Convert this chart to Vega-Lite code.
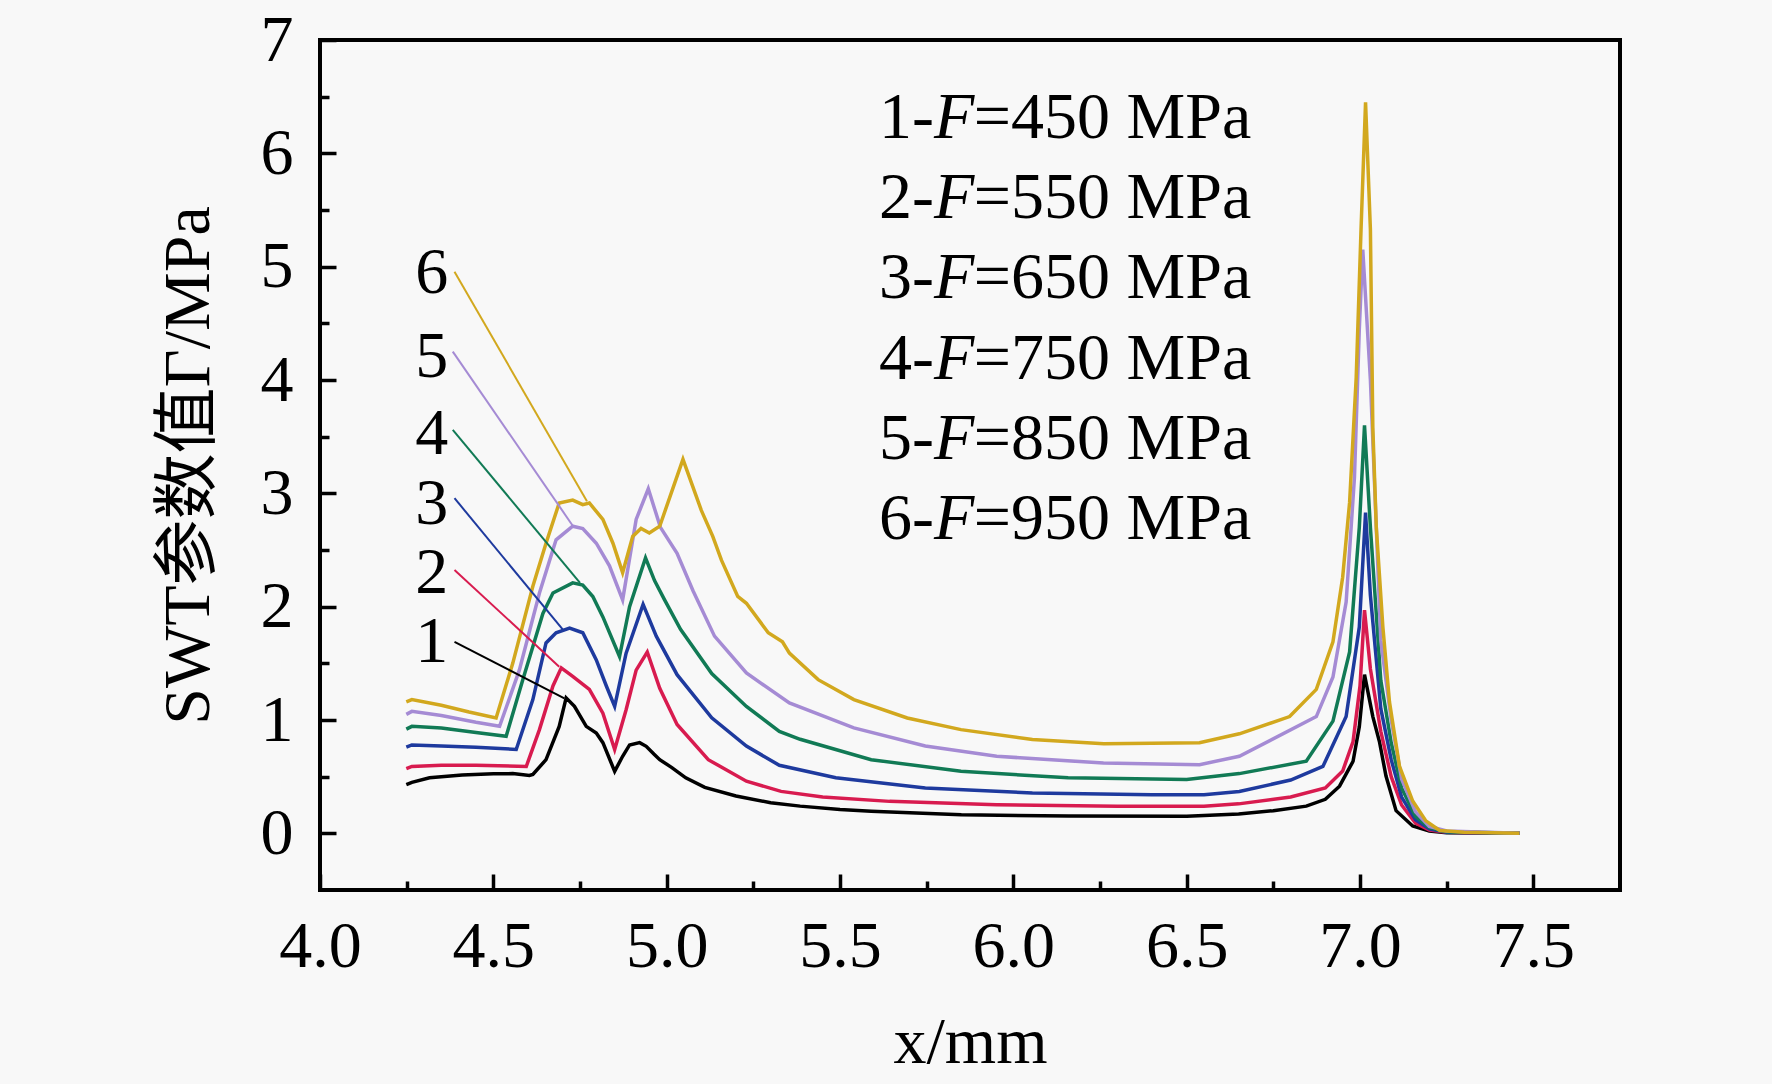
{
  "$schema": "https://vega.github.io/schema/vega-lite/v6.json",
  "width": 1300,
  "height": 850,
  "autosize": {"type": "none"},
  "padding": {"left": 320, "top": 40, "right": 152, "bottom": 194},
  "background": "#f8f8f8",
  "config": {
    "view": {"stroke": "#000000", "strokeWidth": 4},
    "font": "Liberation Serif",
    "text": {"font": "Liberation Serif", "fontSize": 66, "color": "#000000"}
  },
  "resolve": {"axis": {"x": "independent", "y": "independent"}},
  "datasets": {
    "curves": [
      {"c":"1","x":4.249,"y":0.43},{"c":"1","x":4.265,"y":0.45},{"c":"1","x":4.316,"y":0.49},{"c":"1","x":4.41,"y":0.515},{"c":"1","x":4.5,"y":0.525},{"c":"1","x":4.556,"y":0.527},{"c":"1","x":4.604,"y":0.51},{"c":"1","x":4.614,"y":0.52},{"c":"1","x":4.652,"y":0.65},{"c":"1","x":4.69,"y":0.944},{"c":"1","x":4.71,"y":1.195},{"c":"1","x":4.734,"y":1.12},{"c":"1","x":4.768,"y":0.944},{"c":"1","x":4.797,"y":0.886},{"c":"1","x":4.816,"y":0.8},{"c":"1","x":4.85,"y":0.547},{"c":"1","x":4.873,"y":0.68},{"c":"1","x":4.893,"y":0.78},{"c":"1","x":4.922,"y":0.8},{"c":"1","x":4.941,"y":0.768},{"c":"1","x":4.963,"y":0.7},{"c":"1","x":4.98,"y":0.65},{"c":"1","x":5.015,"y":0.58},{"c":"1","x":5.055,"y":0.49},{"c":"1","x":5.11,"y":0.405},{"c":"1","x":5.2,"y":0.33},{"c":"1","x":5.3,"y":0.27},{"c":"1","x":5.385,"y":0.24},{"c":"1","x":5.5,"y":0.21},{"c":"1","x":5.59,"y":0.194},{"c":"1","x":5.85,"y":0.165},{"c":"1","x":6.16,"y":0.152},{"c":"1","x":6.5,"y":0.15},{"c":"1","x":6.65,"y":0.17},{"c":"1","x":6.75,"y":0.2},{"c":"1","x":6.845,"y":0.24},{"c":"1","x":6.9,"y":0.3},{"c":"1","x":6.941,"y":0.416},{"c":"1","x":6.98,"y":0.636},{"c":"1","x":6.998,"y":0.94},{"c":"1","x":7.013,"y":1.4},{"c":"1","x":7.037,"y":1.03},{"c":"1","x":7.056,"y":0.81},{"c":"1","x":7.075,"y":0.505},{"c":"1","x":7.104,"y":0.2},{"c":"1","x":7.152,"y":0.065},{"c":"1","x":7.2,"y":0.02},{"c":"1","x":7.25,"y":0.005},{"c":"1","x":7.46,"y":0.0},
      {"c":"2","x":4.249,"y":0.57},{"c":"2","x":4.265,"y":0.59},{"c":"2","x":4.35,"y":0.6},{"c":"2","x":4.45,"y":0.6},{"c":"2","x":4.595,"y":0.59},{"c":"2","x":4.633,"y":0.915},{"c":"2","x":4.672,"y":1.3},{"c":"2","x":4.696,"y":1.46},{"c":"2","x":4.729,"y":1.385},{"c":"2","x":4.777,"y":1.27},{"c":"2","x":4.816,"y":1.06},{"c":"2","x":4.85,"y":0.74},{"c":"2","x":4.883,"y":1.09},{"c":"2","x":4.912,"y":1.44},{"c":"2","x":4.944,"y":1.6},{"c":"2","x":4.98,"y":1.28},{"c":"2","x":5.03,"y":0.96},{"c":"2","x":5.12,"y":0.65},{"c":"2","x":5.23,"y":0.46},{"c":"2","x":5.33,"y":0.37},{"c":"2","x":5.45,"y":0.32},{"c":"2","x":5.643,"y":0.282},{"c":"2","x":5.952,"y":0.253},{"c":"2","x":6.3,"y":0.24},{"c":"2","x":6.55,"y":0.238},{"c":"2","x":6.65,"y":0.26},{"c":"2","x":6.8,"y":0.32},{"c":"2","x":6.9,"y":0.4},{"c":"2","x":6.95,"y":0.55},{"c":"2","x":6.98,"y":0.81},{"c":"2","x":7.0,"y":1.3},{"c":"2","x":7.013,"y":1.97},{"c":"2","x":7.03,"y":1.45},{"c":"2","x":7.06,"y":0.9},{"c":"2","x":7.09,"y":0.5},{"c":"2","x":7.12,"y":0.25},{"c":"2","x":7.16,"y":0.09},{"c":"2","x":7.2,"y":0.03},{"c":"2","x":7.25,"y":0.01},{"c":"2","x":7.46,"y":0.0},
      {"c":"3","x":4.249,"y":0.76},{"c":"3","x":4.265,"y":0.78},{"c":"3","x":4.35,"y":0.77},{"c":"3","x":4.45,"y":0.76},{"c":"3","x":4.566,"y":0.74},{"c":"3","x":4.614,"y":1.18},{"c":"3","x":4.652,"y":1.68},{"c":"3","x":4.681,"y":1.77},{"c":"3","x":4.72,"y":1.81},{"c":"3","x":4.758,"y":1.77},{"c":"3","x":4.797,"y":1.53},{"c":"3","x":4.826,"y":1.3},{"c":"3","x":4.85,"y":1.12},{"c":"3","x":4.883,"y":1.59},{"c":"3","x":4.932,"y":2.02},{"c":"3","x":4.97,"y":1.74},{"c":"3","x":5.03,"y":1.4},{"c":"3","x":5.13,"y":1.02},{"c":"3","x":5.23,"y":0.77},{"c":"3","x":5.325,"y":0.6},{"c":"3","x":5.488,"y":0.49},{"c":"3","x":5.746,"y":0.4},{"c":"3","x":6.055,"y":0.356},{"c":"3","x":6.4,"y":0.34},{"c":"3","x":6.55,"y":0.34},{"c":"3","x":6.652,"y":0.37},{"c":"3","x":6.8,"y":0.47},{"c":"3","x":6.893,"y":0.59},{"c":"3","x":6.96,"y":1.03},{"c":"3","x":6.998,"y":1.82},{"c":"3","x":7.016,"y":2.83},{"c":"3","x":7.03,"y":2.1},{"c":"3","x":7.06,"y":1.1},{"c":"3","x":7.09,"y":0.65},{"c":"3","x":7.12,"y":0.32},{"c":"3","x":7.16,"y":0.12},{"c":"3","x":7.2,"y":0.04},{"c":"3","x":7.25,"y":0.01},{"c":"3","x":7.46,"y":0.0},
      {"c":"4","x":4.249,"y":0.92},{"c":"4","x":4.265,"y":0.944},{"c":"4","x":4.35,"y":0.93},{"c":"4","x":4.45,"y":0.89},{"c":"4","x":4.537,"y":0.856},{"c":"4","x":4.585,"y":1.356},{"c":"4","x":4.643,"y":1.94},{"c":"4","x":4.672,"y":2.12},{"c":"4","x":4.729,"y":2.21},{"c":"4","x":4.758,"y":2.19},{"c":"4","x":4.787,"y":2.09},{"c":"4","x":4.816,"y":1.91},{"c":"4","x":4.864,"y":1.56},{"c":"4","x":4.893,"y":2.0},{"c":"4","x":4.939,"y":2.43},{"c":"4","x":4.965,"y":2.23},{"c":"4","x":4.994,"y":2.06},{"c":"4","x":5.04,"y":1.8},{"c":"4","x":5.13,"y":1.41},{"c":"4","x":5.23,"y":1.12},{"c":"4","x":5.325,"y":0.9},{"c":"4","x":5.385,"y":0.83},{"c":"4","x":5.59,"y":0.65},{"c":"4","x":5.849,"y":0.547},{"c":"4","x":6.158,"y":0.49},{"c":"4","x":6.5,"y":0.474},{"c":"4","x":6.652,"y":0.527},{"c":"4","x":6.845,"y":0.636},{"c":"4","x":6.922,"y":0.99},{"c":"4","x":6.97,"y":1.6},{"c":"4","x":6.998,"y":2.7},{"c":"4","x":7.013,"y":3.6},{"c":"4","x":7.03,"y":2.7},{"c":"4","x":7.06,"y":1.35},{"c":"4","x":7.09,"y":0.8},{"c":"4","x":7.12,"y":0.4},{"c":"4","x":7.16,"y":0.15},{"c":"4","x":7.2,"y":0.05},{"c":"4","x":7.25,"y":0.015},{"c":"4","x":7.46,"y":0.0},
      {"c":"5","x":4.249,"y":1.05},{"c":"5","x":4.265,"y":1.076},{"c":"5","x":4.35,"y":1.04},{"c":"5","x":4.45,"y":0.98},{"c":"5","x":4.518,"y":0.944},{"c":"5","x":4.575,"y":1.44},{"c":"5","x":4.633,"y":2.12},{"c":"5","x":4.681,"y":2.59},{"c":"5","x":4.729,"y":2.71},{"c":"5","x":4.758,"y":2.69},{"c":"5","x":4.797,"y":2.56},{"c":"5","x":4.835,"y":2.36},{"c":"5","x":4.873,"y":2.06},{"c":"5","x":4.912,"y":2.77},{"c":"5","x":4.947,"y":3.04},{"c":"5","x":4.982,"y":2.7},{"c":"5","x":5.03,"y":2.47},{"c":"5","x":5.076,"y":2.14},{"c":"5","x":5.138,"y":1.74},{"c":"5","x":5.23,"y":1.415},{"c":"5","x":5.354,"y":1.15},{"c":"5","x":5.54,"y":0.93},{"c":"5","x":5.746,"y":0.77},{"c":"5","x":5.952,"y":0.68},{"c":"5","x":6.26,"y":0.62},{"c":"5","x":6.537,"y":0.606},{"c":"5","x":6.652,"y":0.68},{"c":"5","x":6.874,"y":1.03},{"c":"5","x":6.922,"y":1.38},{"c":"5","x":6.96,"y":2.04},{"c":"5","x":6.984,"y":3.14},{"c":"5","x":6.998,"y":4.45},{"c":"5","x":7.008,"y":5.15},{"c":"5","x":7.03,"y":4.0},{"c":"5","x":7.06,"y":1.7},{"c":"5","x":7.09,"y":1.0},{"c":"5","x":7.12,"y":0.48},{"c":"5","x":7.16,"y":0.19},{"c":"5","x":7.2,"y":0.06},{"c":"5","x":7.25,"y":0.02},{"c":"5","x":7.46,"y":0.0},
      {"c":"6","x":4.249,"y":1.16},{"c":"6","x":4.265,"y":1.18},{"c":"6","x":4.35,"y":1.13},{"c":"6","x":4.43,"y":1.07},{"c":"6","x":4.508,"y":1.018},{"c":"6","x":4.556,"y":1.5},{"c":"6","x":4.614,"y":2.18},{"c":"6","x":4.652,"y":2.56},{"c":"6","x":4.69,"y":2.915},{"c":"6","x":4.729,"y":2.94},{"c":"6","x":4.758,"y":2.9},{"c":"6","x":4.777,"y":2.915},{"c":"6","x":4.816,"y":2.77},{"c":"6","x":4.845,"y":2.56},{"c":"6","x":4.873,"y":2.3},{"c":"6","x":4.902,"y":2.62},{"c":"6","x":4.926,"y":2.69},{"c":"6","x":4.95,"y":2.65},{"c":"6","x":4.98,"y":2.71},{"c":"6","x":5.047,"y":3.3},{"c":"6","x":5.1,"y":2.85},{"c":"6","x":5.133,"y":2.62},{"c":"6","x":5.158,"y":2.41},{"c":"6","x":5.205,"y":2.09},{"c":"6","x":5.23,"y":2.03},{"c":"6","x":5.293,"y":1.77},{"c":"6","x":5.334,"y":1.69},{"c":"6","x":5.354,"y":1.59},{"c":"6","x":5.437,"y":1.356},{"c":"6","x":5.54,"y":1.18},{"c":"6","x":5.694,"y":1.018},{"c":"6","x":5.849,"y":0.915},{"c":"6","x":6.055,"y":0.827},{"c":"6","x":6.261,"y":0.79},{"c":"6","x":6.537,"y":0.8},{"c":"6","x":6.652,"y":0.878},{"c":"6","x":6.797,"y":1.03},{"c":"6","x":6.874,"y":1.27},{"c":"6","x":6.922,"y":1.69},{"c":"6","x":6.95,"y":2.26},{"c":"6","x":6.97,"y":2.92},{"c":"6","x":6.989,"y":4.02},{"c":"6","x":7.003,"y":5.33},{"c":"6","x":7.016,"y":6.45},{"c":"6","x":7.03,"y":5.33},{"c":"6","x":7.037,"y":3.58},{"c":"6","x":7.047,"y":2.7},{"c":"6","x":7.066,"y":1.82},{"c":"6","x":7.085,"y":1.16},{"c":"6","x":7.114,"y":0.59},{"c":"6","x":7.152,"y":0.285},{"c":"6","x":7.19,"y":0.11},{"c":"6","x":7.23,"y":0.025},{"c":"6","x":7.3,"y":0.01},{"c":"6","x":7.46,"y":0.0}
    ],
    "leaders": [
      {"c":"1","x":4.388,"y":1.69,"x2":4.705,"y2":1.19},
      {"c":"2","x":4.388,"y":2.324,"x2":4.69,"y2":1.47},
      {"c":"3","x":4.388,"y":2.957,"x2":4.70,"y2":1.8},
      {"c":"4","x":4.383,"y":3.56,"x2":4.75,"y2":2.21},
      {"c":"5","x":4.383,"y":4.25,"x2":4.73,"y2":2.71},
      {"c":"6","x":4.388,"y":4.956,"x2":4.77,"y2":2.93}
    ],
    "numlabels": [
      {"c":"1","x":4.322,"y":1.69},
      {"c":"2","x":4.322,"y":2.3},
      {"c":"3","x":4.322,"y":2.91},
      {"c":"4","x":4.322,"y":3.52},
      {"c":"5","x":4.322,"y":4.2},
      {"c":"6","x":4.322,"y":4.94}
    ],
    "legend": [
      {"n":"1-","f":"F","r":"=450 MPa","y":6.316},
      {"n":"2-","f":"F","r":"=550 MPa","y":5.607},
      {"n":"3-","f":"F","r":"=650 MPa","y":4.898},
      {"n":"4-","f":"F","r":"=750 MPa","y":4.189},
      {"n":"5-","f":"F","r":"=850 MPa","y":3.48},
      {"n":"6-","f":"F","r":"=950 MPa","y":2.771}
    ]
  },
  "layer": [
    {
      "data": {"name": "curves"},
      "mark": {"type": "line", "strokeWidth": 3.5, "clip": true},
      "encoding": {
        "x": {
          "field": "x", "type": "quantitative",
          "scale": {"domain": [4, 7.75], "nice": false, "zero": false},
          "axis": {
            "orient": "bottom",
            "values": [4, 4.5, 5, 5.5, 6, 6.5, 7, 7.5],
            "format": ".1f",
            "domain": false, "grid": false,
            "tickColor": "#000000", "tickWidth": 3.5, "tickSize": -16,
            "labelFont": "Liberation Serif", "labelFontSize": 66, "labelColor": "#000000",
            "labelPadding": 40, "labelFlush": false, "labelOverlap": false,
            "title": "x/mm", "titleFont": "Liberation Serif", "titleFontSize": 66,
            "titleFontWeight": "normal", "titleColor": "#000000",
            "titleBaseline": "alphabetic", "titlePadding": 83
          }
        },
        "y": {
          "field": "y", "type": "quantitative",
          "scale": {"domain": [-0.5, 7], "nice": false, "zero": false},
          "axis": {
            "orient": "left",
            "values": [0, 1, 2, 3, 4, 5, 6, 7],
            "format": "d",
            "domain": false, "grid": false,
            "tickColor": "#000000", "tickWidth": 3.5, "tickSize": -16,
            "labelFont": "Liberation Serif", "labelFontSize": 66, "labelColor": "#000000",
            "labelPadding": 43, "labelFlush": false, "labelOverlap": false,
            "title": "SWT参数值Γ/MPa", "titleFont": "Liberation Serif, Noto Sans CJK SC", "titleFontSize": 66,
            "titleFontWeight": "normal", "titleColor": "#000000",
            "titleBaseline": "alphabetic", "titlePadding": 52
          }
        },
        "color": {
          "field": "c", "type": "nominal",
          "scale": {"domain": ["1","2","3","4","5","6"], "range": ["#000000","#D81B4F","#1E3A9E","#117A55","#A58BD4","#D2A81E"]},
          "legend": null
        }
      }
    },
    {
      "data": {"name": "leaders"},
      "mark": {"type": "rule", "strokeWidth": 2},
      "encoding": {
        "x": {
          "field": "x", "type": "quantitative",
          "axis": {
            "orient": "bottom",
            "values": [4.25, 4.75, 5.25, 5.75, 6.25, 6.75, 7.25],
            "domain": false, "grid": false, "labels": false, "title": null,
            "tickColor": "#000000", "tickWidth": 3.5, "tickSize": -9
          }
        },
        "y": {
          "field": "y", "type": "quantitative",
          "axis": {
            "orient": "left",
            "values": [0.5, 1.5, 2.5, 3.5, 4.5, 5.5, 6.5],
            "domain": false, "grid": false, "labels": false, "title": null,
            "tickColor": "#000000", "tickWidth": 3.5, "tickSize": -9
          }
        },
        "x2": {"field": "x2"},
        "y2": {"field": "y2"},
        "color": {"field": "c", "type": "nominal", "legend": null}
      }
    },
    {
      "data": {"name": "numlabels"},
      "mark": {"type": "text", "align": "center", "baseline": "middle", "font": "Liberation Serif", "fontSize": 66, "color": "#000000"},
      "encoding": {
        "x": {"field": "x", "type": "quantitative", "axis": null},
        "y": {"field": "y", "type": "quantitative", "axis": null},
        "text": {"field": "c"}
      }
    },
    {
      "data": {"name": "legend"},
      "mark": {"type": "text", "align": "right", "baseline": "middle", "font": "Liberation Serif", "fontSize": 66, "color": "#000000"},
      "encoding": {
        "x": {"datum": 5.771, "type": "quantitative", "axis": null},
        "y": {"field": "y", "type": "quantitative", "axis": null},
        "text": {"field": "n"}
      }
    },
    {
      "data": {"name": "legend"},
      "mark": {"type": "text", "align": "left", "baseline": "middle", "font": "Liberation Serif", "fontSize": 66, "fontStyle": "italic", "color": "#000000"},
      "encoding": {
        "x": {"datum": 5.771, "type": "quantitative", "axis": null},
        "y": {"field": "y", "type": "quantitative", "axis": null},
        "text": {"field": "f"}
      }
    },
    {
      "data": {"name": "legend"},
      "mark": {"type": "text", "align": "left", "baseline": "middle", "font": "Liberation Serif", "fontSize": 66, "color": "#000000"},
      "encoding": {
        "x": {"datum": 5.886, "type": "quantitative", "axis": null},
        "y": {"field": "y", "type": "quantitative", "axis": null},
        "text": {"field": "r"}
      }
    }
  ]
}
